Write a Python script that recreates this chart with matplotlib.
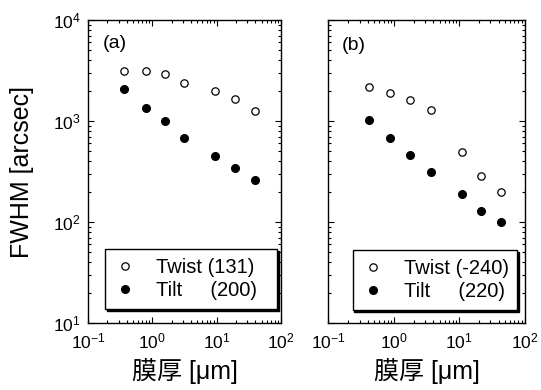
import matplotlib
matplotlib.use("Agg")
import matplotlib.pyplot as plt
from matplotlib.lines import Line2D
from matplotlib.ticker import LogLocator, NullFormatter

plt.rcParams["font.family"] = ["Liberation Sans", "Noto Sans CJK JP"]
plt.rcParams["mathtext.fontset"] = "custom"
plt.rcParams["mathtext.rm"] = "Liberation Sans"
plt.rcParams["mathtext.it"] = "Liberation Sans:italic"

# thickness [um] and FWHM [arcsec]
thick_a = [0.36, 0.8, 1.6, 3.1, 9.5, 19, 39]
twist_a = [3140, 3120, 2890, 2370, 2000, 1640, 1250]
tilt_a = [2080, 1360, 1010, 680, 450, 340, 258]

thick_b = [0.41, 0.86, 1.76, 3.65, 10.9, 21.7, 43.5]
twist_b = [2150, 1900, 1620, 1290, 490, 287, 196]
tilt_b = [1020, 685, 456, 314, 188, 129, 99]

panels = [
    ("(a)", thick_a, twist_a, tilt_a, ["Twist (131)", "Tilt     (200)"]),
    ("(b)", thick_b, twist_b, tilt_b, ["Twist (-240)", "Tilt     (220)"]),
]

fig = plt.figure(figsize=(5.41, 3.90), dpi=100)
rects = [[0.1627, 0.1718, 0.3567, 0.7769], [0.6072, 0.1718, 0.3625, 0.7769]]
leg_box = [(0.088, 0.0, 0.891, 0.244), (0.123, 0.0, 0.838, 0.241)]
lab_pos = [(0.076, 0.923), (0.067, 0.915)]

for i, (tag, x, tw, tl, labels) in enumerate(panels):
    ax = fig.add_axes(rects[i])
    ax.set_xscale("log")
    ax.set_yscale("log")
    ax.set_xlim(0.1, 100)
    ax.set_ylim(10, 1e4)
    ax.plot(x, tw, ls="none", marker="o", ms=5.3, mfc="white", mec="black", mew=0.9)
    ax.plot(x, tl, ls="none", marker="o", ms=5.6, mfc="black", mec="black", mew=0.9)

    for axis in (ax.xaxis, ax.yaxis):
        axis.set_major_locator(LogLocator(base=10, numticks=10))
        axis.set_minor_locator(LogLocator(base=10, subs=range(2, 10), numticks=10))
        axis.set_minor_formatter(NullFormatter())
    ax.tick_params(which="both", direction="in", top=True, right=True, labelsize=12.5)
    ax.tick_params(which="major", length=4.5, width=0.8)
    ax.tick_params(which="minor", length=2.2, width=0.8)
    ax.tick_params(axis="x", which="major", pad=6)
    ax.tick_params(axis="y", which="major", pad=5)
    for s in ax.spines.values():
        s.set_linewidth(1.0)
    if i == 1:
        ax.tick_params(labelleft=False)
    else:
        ax.set_ylabel("FWHM [arcsec]", fontsize=18)
        ax.yaxis.set_label_coords(-0.28, 0.5)
    ax.set_xlabel("膜厚 [μm]", fontsize=18, labelpad=5)

    ax.text(lab_pos[i][0], lab_pos[i][1], tag, transform=ax.transAxes,
            fontsize=14, ha="left", va="center")

    handles = [
        Line2D([], [], ls="none", marker="o", ms=5.3, mfc="white", mec="black", mew=0.9),
        Line2D([], [], ls="none", marker="o", ms=5.6, mfc="black", mec="black", mew=0.9),
    ]
    leg = ax.legend(handles, labels, loc="upper left", bbox_to_anchor=leg_box[i],
                    mode="expand", borderaxespad=0, fontsize=14.5, frameon=True,
                    fancybox=False,
                    shadow={"color": "black", "alpha": 1, "ox": 1.3, "oy": -1.3},
                    borderpad=0.45, handlelength=1.1, handletextpad=0.98,
                    labelspacing=0.18)
    leg.get_frame().set_edgecolor("black")
    leg.get_frame().set_linewidth(1.0)

fig.savefig("out.png", dpi=100)
